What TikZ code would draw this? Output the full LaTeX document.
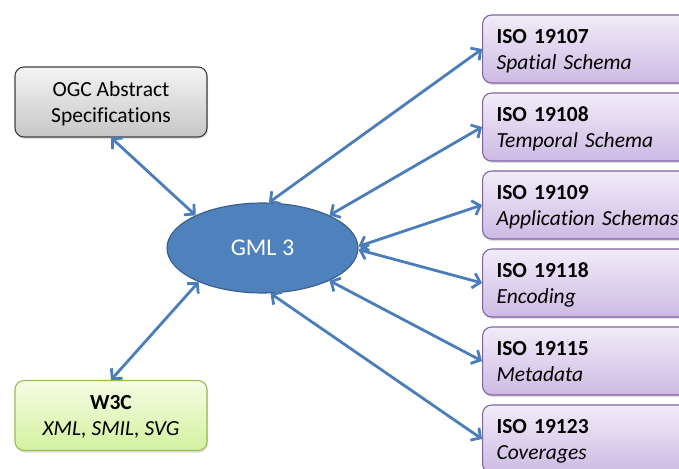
\documentclass[tikz,border=0pt]{standalone}
\usepackage{fontspec}
\setmainfont{Carlito}[Ligatures=NoCommon]
\usetikzlibrary{arrows.meta, positioning, shapes.geometric, shadows}
\definecolor{gmlblue}{HTML}{4F81BD}
\definecolor{gmledge}{HTML}{385D8A}
\definecolor{linkblue}{HTML}{4A7EBB}
\definecolor{isoedge}{HTML}{8064A2}
\definecolor{isotop}{HTML}{F1ECF8}
\definecolor{isobot}{HTML}{CDBAE4}
\definecolor{w3cedge}{HTML}{9BBB59}
\definecolor{w3ctop}{HTML}{F5FCE4}
\definecolor{w3cbot}{HTML}{D3F29E}
\definecolor{ogcedge}{HTML}{404040}
\definecolor{ogctop}{HTML}{F4F4F4}
\definecolor{ogcbot}{HTML}{C6C6C6}

\tikzset{
  specbox/.style={rounded corners=9pt, line width=1.1pt, inner sep=0pt,
    font=\fontsize{21.5}{26}\selectfont,
    drop shadow={opacity=0.25, shadow xshift=1pt, shadow yshift=-2pt}},
  isobox/.style={specbox, draw=isoedge, top color=isotop, bottom color=isobot,
    anchor=west, minimum height=68pt, inner xsep=14pt, text width=187pt, align=left,
    text depth=26pt},
  sidebox/.style={specbox, minimum width=192pt, minimum height=70pt, align=center,
    text depth=0pt},
  link/.style={{Straight Barb[length=7pt,width=15pt]}-{Straight Barb[length=7pt,width=15pt]},
    draw=linkblue, line width=2.8pt}
}

\begin{document}
\begin{tikzpicture}[x=1pt, y=-1pt]
    \path[use as bounding box] (0, 0) rectangle (679, 468);
    \clip (0, 0) rectangle (679, 468);

    % GML core
    \node[ellipse, draw=gmledge, line width=1.1pt, fill=gmlblue, text=white,
          minimum width=191pt, minimum height=90pt, inner sep=0pt,
          font=\fontsize{24}{28}\selectfont] (gml) at (262.5, 248) {GML 3};

    % left side sources
    \node[sidebox, draw=ogcedge, top color=ogctop, bottom color=ogcbot] (ogc) at (111, 102)
        {OGC Abstract\\Specifications};
    \node[sidebox, draw=w3cedge, top color=w3ctop, bottom color=w3cbot] (w3c) at (111, 415.5)
        {\textbf{W3C}\\\textit{XML, SMIL, SVG}};

    % ISO standards on the right
    \node[isobox] (iso107) at (482, 49)  {\textbf{ISO 19107}\\\textit{Spatial Schema}};
    \node[isobox] (iso108) at (482, 127) {\textbf{ISO 19108}\\\textit{Temporal Schema}};
    \node[isobox] (iso109) at (482, 205) {\textbf{ISO 19109}\\\textit{Application Schemas}};
    \node[isobox] (iso118) at (482, 283) {\textbf{ISO 19118}\\\textit{Encoding}};
    \node[isobox] (iso115) at (482, 361) {\textbf{ISO 19115}\\\textit{Metadata}};
    \node[isobox] (iso123) at (482, 439) {\textbf{ISO 19123}\\\textit{Coverages}};

    % links
    \draw[link] (ogc.south) -- (gml.154);
    \draw[link] (w3c.north) -- (gml.208);
    \draw[link] (gml.82) -- (iso107.west);
    \draw[link] (gml.26) -- (iso108.west);
    \draw[link] (gml.1) -- (iso109.west);
    \draw[link] (gml.-1) -- (iso118.west);
    \draw[link] (gml.-26) -- (iso115.west);
    \draw[link] (gml.-80) -- (iso123.west);
\end{tikzpicture}
\end{document}
